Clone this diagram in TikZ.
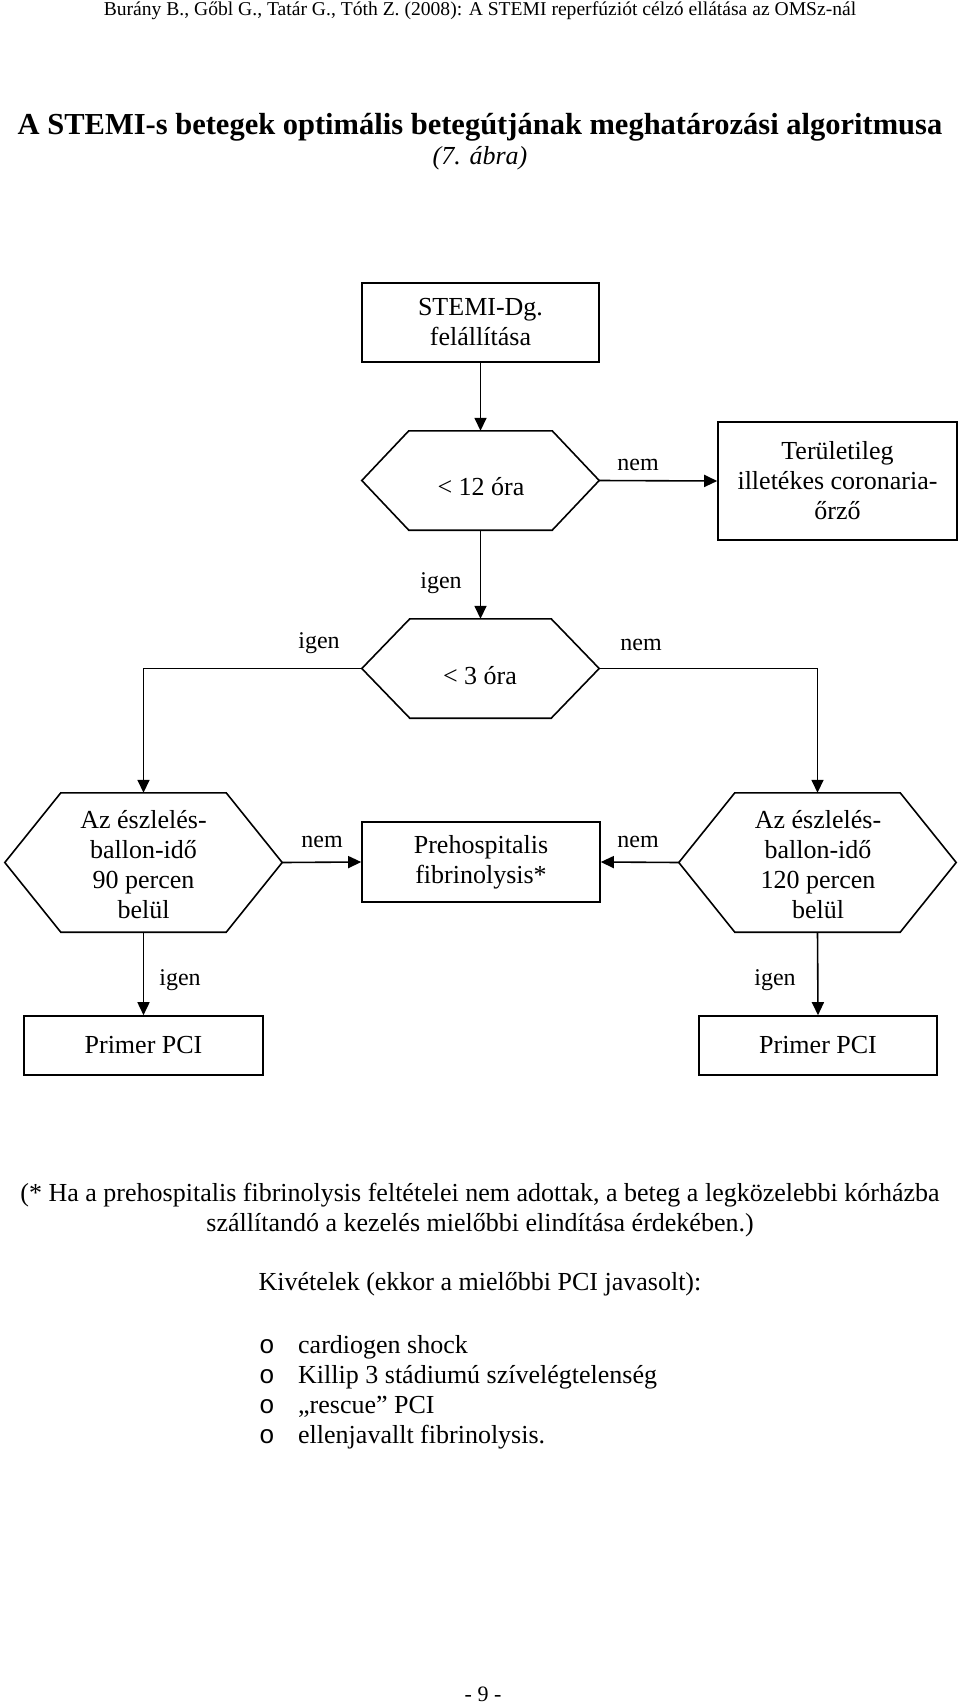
\documentclass[tikz,border=0pt]{standalone}
\usepackage{fontspec}
\setmainfont{Liberation Serif}
\newfontfamily\bulletfont{Liberation Mono}
\usetikzlibrary{arrows.meta}
\begin{document}
\begin{tikzpicture}[x=1pt,y=-1pt,
  ln/.style={line width=1.6pt, line join=miter},
  arr/.style={ln, -{Triangle[length=13pt,width=12pt]}},
  box/.style={draw, ln, inner sep=0pt, align=center, font=\fontsize{26}{30}\selectfont},
  hexn/.style={inner sep=0pt, minimum width=#1},
  txt/.style={inner sep=0pt, align=center, font=\fontsize{26}{30}\selectfont},
  lbl/.style={inner sep=0pt, font=\fontsize{24}{28}\selectfont},
  para/.style={inner sep=0pt, anchor=base, font=\fontsize{26}{30}\selectfont},
  bul/.style={inner sep=0pt, anchor=base, font=\bulletfont\fontsize{26}{30}\selectfont},
  itm/.style={inner sep=0pt, anchor=base west, font=\fontsize{26}{30}\selectfont}]
\path[use as bounding box, fill=white] (0,0) rectangle (960,1704);

% header and title
\node[inner sep=0pt, anchor=base, font=\fontsize{19.6}{22}\selectfont] (hdr) at (480,16)
  {Burány B., Gőbl G., Tatár G., Tóth Z. (2008): A STEMI reperfúziót célzó ellátása az OMSz-nál};
\node[inner sep=0pt, anchor=base, font=\fontsize{30.5}{34}\selectfont\bfseries] (title) at (480,135)
  {A STEMI-s betegek optimális betegútjának meghatározási algoritmusa};
\node[inner sep=0pt, anchor=base, font=\fontsize{26}{30}\selectfont\itshape] (abra) at (480,165)
  {(7. ábra)};

% boxes
\node[box, minimum width=237pt, minimum height=79pt] (stemi) at (480.5,322.5) {STEMI-Dg.\\felállítása};
\node[box, minimum width=239pt, minimum height=118pt] (ter) at (837.5,481) {Területileg\\illetékes coronaria-\\őrző};
\node[box, minimum width=238pt, minimum height=80pt] (preh) at (481,862) {Prehospitalis\\fibrinolysis*};
\node[box, minimum width=239pt, minimum height=59pt] (pci1) at (143.5,1045.5) {Primer PCI};
\node[box, minimum width=238pt, minimum height=59pt] (pci2) at (818,1045.5) {Primer PCI};

% hexagon anchors
\node[hexn=237pt, minimum height=99pt] (h1) at (480.5,480.5) {};
\node[hexn=237pt, minimum height=99pt] (h2) at (480.5,668.5) {};
\node[hexn=277pt, minimum height=139pt] (h3) at (143.5,862.5) {};
\node[hexn=277pt, minimum height=139pt] (h4) at (817.5,862.5) {};

\draw[ln] ([xshift=47pt]h1.north west) -- ([xshift=-47pt]h1.north east) -- (h1.east)
  -- ([xshift=-47pt]h1.south east) -- ([xshift=47pt]h1.south west) -- (h1.west) -- cycle;
\draw[ln] ([xshift=48pt]h2.north west) -- ([xshift=-48pt]h2.north east) -- (h2.east)
  -- ([xshift=-48pt]h2.south east) -- ([xshift=48pt]h2.south west) -- (h2.west) -- cycle;
\draw[ln] ([xshift=56pt]h3.north west) -- ([xshift=-56pt]h3.north east) -- (h3.east)
  -- ([xshift=-56pt]h3.south east) -- ([xshift=56pt]h3.south west) -- (h3.west) -- cycle;
\draw[ln] ([xshift=56pt]h4.north west) -- ([xshift=-56pt]h4.north east) -- (h4.east)
  -- ([xshift=-56pt]h4.south east) -- ([xshift=56pt]h4.south west) -- (h4.west) -- cycle;

% hexagon texts
\node[txt] (h1t) at (481,487) {< 12 óra};
\node[txt] (h2t) at (480,676) {< 3 óra};
\node[txt] (h3t) at (143.5,865) {Az észlelés-\\ballon-idő\\90 percen\\belül};
\node[txt] (h4t) at (818,865) {Az észlelés-\\ballon-idő\\120 percen\\belül};

% connectors
\draw[arr] (stemi.south) -- (h1.north);
\draw[arr] (h1.east) -- (ter.west);
\draw[arr] (h1.south) -- (h2.north);
\draw[arr] (h2.west) -| (h3.north);
\draw[arr] (h2.east) -| (h4.north);
\draw[arr] (h3.east) -- (preh.west);
\draw[arr] (h4.west) -- (preh.east);
\draw[arr] (h3.south) -- (pci1.north);
\draw[arr] (h4.south) -- (pci2.north);

% labels
\node[lbl] (l1) at (638,465) {nem};
\node[lbl] (l2) at (441,583) {igen};
\node[lbl] (l3) at (319,643) {igen};
\node[lbl] (l4) at (641,645) {nem};
\node[lbl] (l5) at (322,842) {nem};
\node[lbl] (l6) at (638,842) {nem};
\node[lbl] (l7) at (180,980) {igen};
\node[lbl] (l8) at (775,980) {igen};

% notes
\node[para] (n1) at (480,1201) {(* Ha a prehospitalis fibrinolysis feltételei nem adottak, a beteg a legközelebbi kórházba};
\node[para] (n2) at (480,1231) {szállítandó a kezelés mielőbbi elindítása érdekében.)};
\node[para] (n3) at (480,1290) {Kivételek (ekkor a mielőbbi PCI javasolt):};

\node[bul] (b1) at (267,1353) {o};
\node[bul] (b2) at (267,1383) {o};
\node[bul] (b3) at (267,1413) {o};
\node[bul] (b4) at (267,1443) {o};
\node[itm] (i1) at (298,1353) {cardiogen shock};
\node[itm] (i2) at (298,1383) {Killip 3 stádiumú szívelégtelenség};
\node[itm] (i3) at (298,1413) {„rescue” PCI};
\node[itm] (i4) at (298,1443) {ellenjavallt fibrinolysis.};

\node[inner sep=0pt, anchor=base, font=\fontsize{22}{26}\selectfont] (pg) at (483,1701) {- 9 -};
\end{tikzpicture}
\end{document}
